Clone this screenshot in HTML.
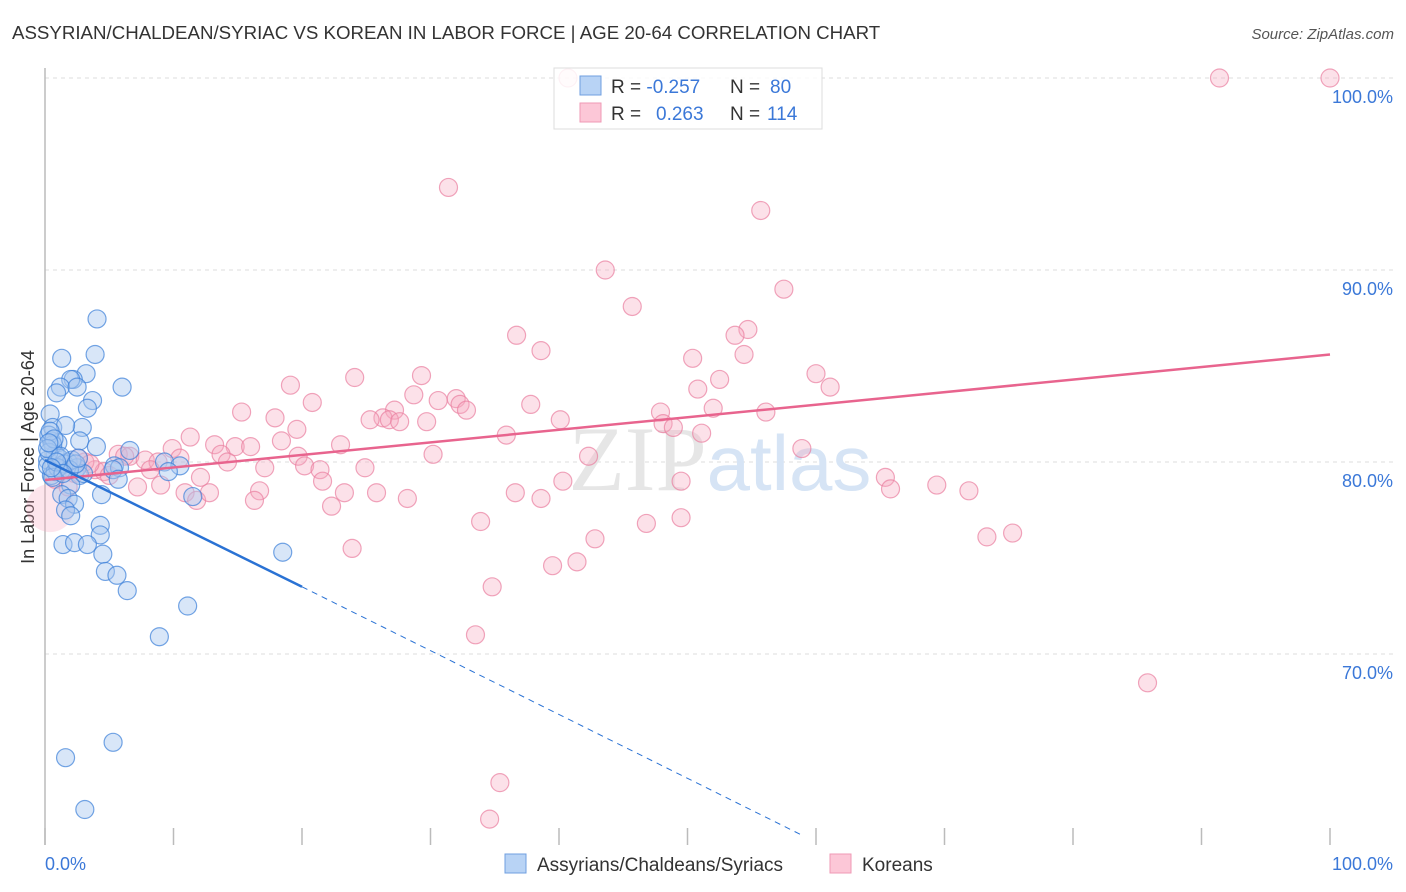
<!DOCTYPE html>
<html><head><meta charset="utf-8">
<style>
body{margin:0;background:#fff;font-family:"Liberation Sans",sans-serif}
svg{display:block}
</style></head>
<body>
<svg id="chart" width="1406" height="892" viewBox="0 0 1406 892" xmlns="http://www.w3.org/2000/svg">
<text x="12" y="39" font-size="18.7" fill="#333">ASSYRIAN/CHALDEAN/SYRIAC VS KOREAN IN LABOR FORCE | AGE 20-64 CORRELATION CHART</text>
<text x="1394" y="39" font-size="15" fill="#555" font-style="italic" text-anchor="end">Source: ZipAtlas.com</text>
<g id="grid"></g>
<text x="720" y="490" font-size="92" text-anchor="middle" fill="#e6e6e6" font-family="Liberation Serif,serif">ZIP<tspan fill="#d6e4f5" font-family="Liberation Sans,sans-serif" font-size="78">atlas</tspan></text>
<line x1="45" y1="68" x2="45" y2="845" stroke="#bbb" stroke-width="1.5"/>
<g id="xticks"></g>
<text transform="translate(34,457) rotate(-90)" font-size="18" fill="#333" text-anchor="middle">In Labor Force | Age 20-64</text>
<text x="45" y="870" font-size="18" fill="#3b78d8">0.0%</text>
<text x="1393" y="870" font-size="18" fill="#3b78d8" text-anchor="end">100.0%</text>
<g id="pinkpts"></g>
<g id="bluepts"></g>
<g id="lines"></g>
<g>
<rect x="554" y="68" width="268" height="61" fill="#fff" fill-opacity="0.85" stroke="#ddd"/>
<rect x="580" y="76" width="21" height="19" fill="#b8d3f5" stroke="#6f9fe0"/>
<rect x="580" y="103" width="21" height="19" fill="#fcc7d7" stroke="#ef9ab5"/>
<text x="611" y="93" font-size="19" fill="#333">R = <tspan fill="#3b78d8">-0.257</tspan><tspan x="730">N = </tspan><tspan fill="#3b78d8" x="770">80</tspan></text>
<text x="611" y="120" font-size="19" fill="#333">R = <tspan fill="#3b78d8" x="656">0.263</tspan><tspan x="730">N = </tspan><tspan fill="#3b78d8" x="767">114</tspan></text>
</g>
<g>
<rect x="505" y="854" width="21" height="19" fill="#b8d3f5" stroke="#6f9fe0"/>
<text x="537" y="871" font-size="19" fill="#333">Assyrians/Chaldeans/Syriacs</text>
<rect x="830" y="854" width="21" height="19" fill="#fcc7d7" stroke="#ef9ab5"/>
<text x="862" y="871" font-size="19" fill="#333">Koreans</text>
</g>
</svg>
<script>
const yTicks=[70,80,90,100];
const yTickLabels=["70.0%","80.0%","90.0%","100.0%"];
const xTicks=[0,10,20,30,40,50,60,70,80,90,100];
const blueX=[4.05,3.9,1.3,6.0,3.2,2.2,2.0,1.2,0.9,2.5,3.7,3.3,0.4,2.9,0.6,1.6,0.5,1.0,2.7,4.0,6.6,0.8,0.2,1.8,2.5,1.3,5.4,5.8,5.3,9.3,10.5,9.6,2.7,5.7,2.0,4.4,1.3,1.8,2.3,1.6,2.0,4.3,4.3,1.4,2.3,3.3,4.5,4.7,5.6,6.4,11.1,8.9,18.5,11.5,5.3,1.6,3.1,0.5,0.3,0.6,1.1,0.2,0.8,1.5,2.1,0.4,1.0,3.0,0.3,0.7,1.9,0.2,1.2,2.4,0.6,0.9,0.3,1.4,2.6,0.5];
const blueY=[87.45,85.6,85.4,83.9,84.6,84.3,84.3,83.9,83.6,83.9,83.2,82.8,82.5,81.8,81.8,81.9,81.1,81.0,81.1,80.8,80.6,80.4,80.1,80.0,79.7,79.6,79.8,79.7,79.6,80.0,79.8,79.5,79.3,79.1,78.8,78.3,78.3,78.1,77.8,77.5,77.2,76.7,76.2,75.7,75.8,75.7,75.2,74.3,74.1,73.3,72.5,70.9,75.3,78.2,65.4,64.6,61.9,79.3,81.4,80.9,80.2,79.8,79.5,79.9,80.1,81.6,79.7,79.4,80.5,81.2,79.6,80.7,80.3,79.9,79.2,80.0,81.0,79.4,80.2,79.7];
const pinkX=[91.4,100,40.7,31.4,55.7,43.6,57.5,45.7,36.7,54.7,53.7,38.6,54.4,50.4,60,52.5,24.1,29.3,19.1,50.8,61.1,28.7,20.8,30.6,32,32.3,32.8,37.8,52,56.1,15.3,27.2,26.3,25.3,26.8,27.6,17.9,29.7,40.1,47.9,48.1,48.9,19.6,51.1,35.9,11.3,18.4,23,13.2,14.8,16,9.9,58.9,13.7,30.2,42.3,19.7,10.5,5.7,6.6,7.8,8.8,14.2,17.1,20.2,21.4,24.9,8.2,12.1,9,21.6,65.4,65.8,69.4,71.9,7.2,10.9,11.8,12.8,16.7,40.3,23.3,25.8,28.2,36.6,38.6,16.3,22.3,49.5,33.9,46.8,49.5,42.8,73.3,75.3,23.9,41.4,39.5,34.8,33.5,85.8,35.4,34.6,3.9,3.1,2.3,1.2,0.8,2.6,4.6,6.2,3.5,1.8,5.0];
const pinkY=[100,100,100,94.3,93.1,90,89,88.1,86.6,86.9,86.6,85.8,85.6,85.4,84.6,84.3,84.4,84.5,84.0,83.8,83.9,83.5,83.1,83.2,83.3,83,82.7,83,82.8,82.6,82.6,82.7,82.3,82.2,82.2,82.1,82.3,82.1,82.2,82.6,82,81.8,81.7,81.5,81.4,81.3,81.1,80.9,80.9,80.8,80.8,80.7,80.7,80.4,80.4,80.3,80.3,80.2,80.4,80.3,80.1,80,80,79.7,79.8,79.6,79.7,79.6,79.2,78.8,79,79.2,78.6,78.8,78.5,78.7,78.4,78,78.4,78.5,79,78.4,78.4,78.1,78.4,78.1,78,77.7,79,76.9,76.8,77.1,76,76.1,76.3,75.5,74.8,74.6,73.5,71,68.5,63.3,61.4,79.6,80.0,79.4,79.8,79.1,80.2,79.5,80.3,79.9,78.7,79.3];
const bigPink=[0.4,77.6];
const blueTrend=[[0,80.1],[20,73.5],[58.8,60.6]];
const pinkTrend=[[0,79.06],[100,85.6]];
const NS='http://www.w3.org/2000/svg';
const xs=v=>45+v*12.85;
const ys=v=>462-(v-80)*19.2;
function mk(tag,parent,attrs){const e=document.createElementNS(NS,tag);for(const k in attrs)e.setAttribute(k,attrs[k]);parent.appendChild(e);return e;}
const grid=document.getElementById('grid');
yTicks.forEach((t,i)=>{
 const l=mk('line',grid,{x1:45,x2:1393,y1:ys(t),y2:ys(t),stroke:'#ddd','stroke-dasharray':'4,4'});
 
 
 const tx=mk('text',grid,{x:1393,y:ys(t)+25,'font-size':18,fill:'#3b78d8','text-anchor':'end'});
 tx.textContent=yTickLabels[i];
 
 
});
const xt=document.getElementById('xticks');
xTicks.forEach(t=>{
 const l=mk('line',xt,{x1:xs(t),x2:xs(t),y1:828,y2:845,stroke:'#bbb','stroke-width':1.5});
 
 
});
const pg=document.getElementById('pinkpts');
const bp=mk('circle',pg,{cx:xs(bigPink[0]),cy:ys(bigPink[1]),r:24,fill:'#f7a8c0','fill-opacity':0.3,stroke:'none'});


pinkX.forEach((x,i)=>{
 const c=mk('circle',pg,{cx:xs(x),cy:ys(pinkY[i]),r:9,fill:'#f7a8c0','fill-opacity':0.35,stroke:'#ea7fa0','stroke-opacity':0.7,'stroke-width':1.2});
 
 
});
const bg=document.getElementById('bluepts');
blueX.forEach((x,i)=>{
 const c=mk('circle',bg,{cx:xs(x),cy:ys(blueY[i]),r:9,fill:'#a9c8f0','fill-opacity':0.45,stroke:'#3b7fd8','stroke-opacity':0.7,'stroke-width':1.2});
 
 
});
const lg=document.getElementById('lines');
const pl=mk('line',lg,{x1:xs(pinkTrend[0][0]),y1:ys(pinkTrend[0][1]),x2:xs(pinkTrend[1][0]),y2:ys(pinkTrend[1][1]),stroke:'#e8648e','stroke-width':2.5});


const bl=mk('line',lg,{x1:xs(blueTrend[0][0]),y1:ys(blueTrend[0][1]),x2:xs(blueTrend[1][0]),y2:ys(blueTrend[1][1]),stroke:'#2a72d4','stroke-width':2.5});


const bd=mk('line',lg,{x1:xs(blueTrend[1][0]),y1:ys(blueTrend[1][1]),x2:xs(blueTrend[2][0]),y2:ys(blueTrend[2][1]),stroke:'#2a72d4','stroke-width':1,'stroke-dasharray':'6,5'});


</script>
</body></html>
